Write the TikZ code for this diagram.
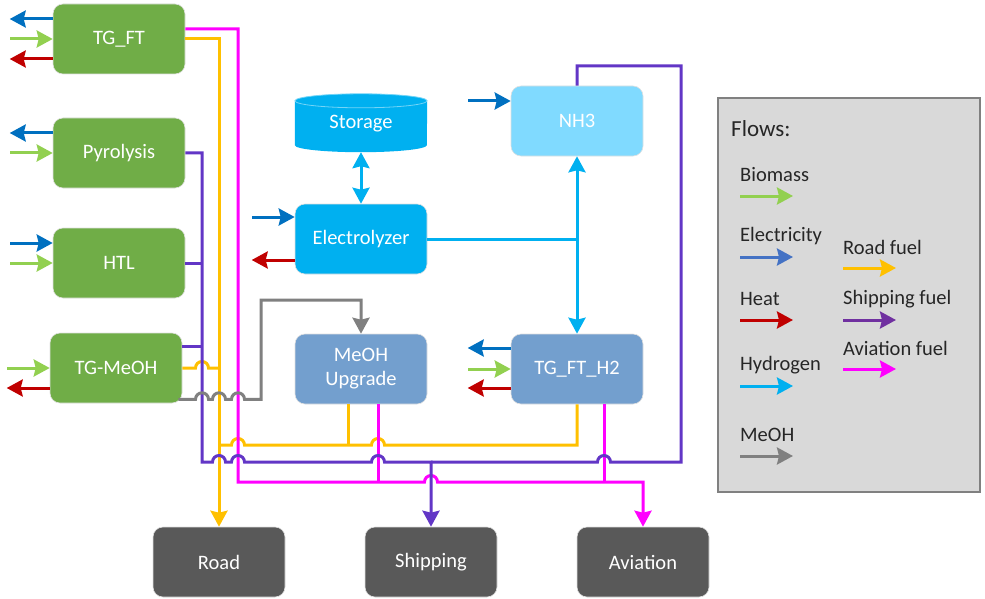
\documentclass[tikz,border=0pt]{standalone}
\usepackage{fontspec}
\setmainfont{Carlito}
\usetikzlibrary{arrows.meta,calc,backgrounds}

\definecolor{cBio}{HTML}{92D050}
\definecolor{cElec}{HTML}{0070C0}
\definecolor{cElecL}{HTML}{4472C4}
\definecolor{cHeat}{HTML}{C00000}
\definecolor{cH2}{HTML}{00B0F0}
\definecolor{cMeOH}{HTML}{808080}
\definecolor{cRoad}{HTML}{FFC000}
\definecolor{cShip}{HTML}{6236C6}
\definecolor{cShipL}{HTML}{7030A0}
\definecolor{cAvia}{HTML}{FF00FF}
\definecolor{cProc}{HTML}{70AD47}
\definecolor{cNH}{HTML}{80DAFF}
\definecolor{cUpg}{HTML}{739FCE}
\definecolor{cDark}{HTML}{595959}

\begin{document}
\begin{tikzpicture}[x=1pt,y=1pt,
    >={Stealth[length=16pt,width=17pt,inset=2pt]},
    box/.style={rectangle,rounded corners=10pt,minimum width=132pt,minimum height=70pt,
        draw=black!12,line width=0.6pt,text=white,align=center,font=\fontsize{20.5}{24}\selectfont},
    proc/.style={box,fill=cProc},
    h2box/.style={box,fill=cH2},
    upg/.style={box,fill=cUpg},
    sink/.style={box,fill=cDark},
    flow/.style={line width=3pt},
    hop/.style={to path={-- ($(\tikztotarget)+(-6.5pt,0)$) arc[start angle=180,end angle=0,radius=6.5pt]}},
    hopl/.style={to path={-- ($(\tikztotarget)+(6.5pt,0)$) arc[start angle=0,end angle=180,radius=6.5pt]}},
    lgtext/.style={inner sep=0pt,anchor=west,text=black!85,font=\fontsize{20.5}{23}\selectfont}]
    \useasboundingbox (0,0) rectangle (985,-599);

    % legend
    \node[draw=black!50,fill=black!15,line width=1.8pt,minimum width=262pt,minimum height=394pt] (legend) at (849,-295) {};
    \node[lgtext,font=\fontsize{23}{25}\selectfont] (flows) at (731,-129) {Flows:};
    \foreach \n/\t/\c/\x/\y in {bio/Biomass/cBio/740/175, el/Electricity/cElecL/740/236,
        ht/Heat/cHeat/740/299, hy/Hydrogen/cH2/740/365, me/MeOH/cMeOH/740/435,
        rd/Road fuel/cRoad/843/247, sh/Shipping fuel/cShipL/843/299, av/Aviation fuel/cAvia/843/348} {
        \node[lgtext] (lg-\n) at (\x,-\y) {\t};
        \draw[flow,color=\c,->] ([yshift=-21pt]lg-\n.west) -- ++(53,0);
    }

    % conversion units
    \node[proc] (tgft) at (119,-39) {TG\_FT};
    \node[proc] (pyro) at (119,-153) {Pyrolysis};
    \node[proc] (htl) at (119,-263) {HTL};
    \node[proc] (tgmeoh) at (116,-368) {TG-MeOH};
    \node[minimum width=132pt,minimum height=56pt,text=white,font=\fontsize{20.5}{24}\selectfont] (storage) at (361,-124) {Storage};
    \begin{scope}[on background layer]
        \fill[cH2] ([yshift=-5pt]storage.north west) -- ([yshift=7pt]storage.south west)
            arc[start angle=180,end angle=360,x radius=66pt,y radius=7pt]
            -- ([yshift=-5pt]storage.north east)
            arc[start angle=0,end angle=180,x radius=66pt,y radius=7pt] -- cycle;
        \draw[white!45!cH2,line width=0.8pt] ([yshift=-5pt]storage.north) ellipse[x radius=66pt,y radius=7pt];
    \end{scope}
    \node[h2box] (elec) at (361,-239) {Electrolyzer};
    \node[box,fill=cNH] (nh3) at (577,-121) {NH3};
    \node[upg] (upgrade) at (361,-369) {MeOH\\Upgrade};
    \node[upg] (tgfth2) at (577,-369) {TG\_FT\_H2};
    \node[sink] (road) at (219,-562) {Road};
    \node[sink] (ship) at (431,-562) {Shipping};
    \node[sink] (avia) at (643,-562) {Aviation};

    % streams into the units
    \foreach \n/\dy/\c in {tgft/0/cBio, pyro/0/cBio, htl/20/cElec, htl/0/cBio, tgmeoh/0/cBio,
        elec/22/cElec, nh3/20/cElec, tgfth2/0/cBio}
        \draw[flow,color=\c,<-] ([yshift=\dy pt]\n.west) -- ++(-43,0);
    % streams out of the units
    \foreach \n/\dy/\c in {tgft/20/cElec, tgft/-20/cHeat, pyro/20/cElec, tgmeoh/-20/cHeat,
        elec/-21/cHeat, tgfth2/21/cElec, tgfth2/-19/cHeat}
        \draw[flow,color=\c,->] ([yshift=\dy pt]\n.west) -- ++(-43,0);

    % buses
    \coordinate (pb) at (202,0);
    \coordinate (mb) at (238,0);
    \coordinate (yh) at (0,-445);
    \coordinate (ph) at (0,-462);
    \coordinate (mh) at (0,-482);
    \coordinate (fm) at ([yshift=10pt]tgft.east);
    \coordinate (mp) at ([yshift=-14pt]tgmeoh.north east);
    \coordinate (gs) at ([shift={(-4pt,4pt)}]tgmeoh.south east);
    \coordinate (gc) at (261,-300);
    \coordinate (upy) at ([xshift=-13pt]upgrade.south);
    \coordinate (upm) at ([xshift=17pt]upgrade.south);
    \coordinate (h2m) at ([xshift=27pt]tgfth2.south);
    \coordinate (nr) at (681,-66);

    % hydrogen
    \draw[flow,cH2] (elec.east) -- (elec.east -| nh3.south);
    \draw[flow,cH2,<->] (nh3.south) -- (tgfth2.north);
    \draw[flow,cH2,<->] (storage.south) -- (elec.north);

    % road fuel
    \draw[flow,cRoad,->] (tgft.east) -| (road.north);
    \draw[flow,cRoad] (tgmeoh.east) to[hop] (pb |- tgmeoh.east) -- (road.north |- tgmeoh.east);
    \draw[flow,cRoad] (tgfth2.south) -- (tgfth2.south |- yh) to[hopl] (upm |- yh) to[hopl] (mb |- yh) -- (road.north |- yh);
    \draw[flow,cRoad] (upy) -- (upy |- yh);

    % aviation fuel
    \draw[flow,cAvia,->] (fm) -| (mb |- mh) to[hop] (ship.north |- mh) -| (avia.north);
    \draw[flow,cAvia] (upm) -- (upm |- mh);
    \draw[flow,cAvia] (h2m) -- (h2m |- mh);

    % shipping fuel
    \draw[flow,cShip,->] (pyro.east) -| (pb |- ph) to[hop] (road.north |- ph) to[hop] (mb |- ph)
        to[hop] (upm |- ph) -- (ship.north |- ph) -- (ship.north);
    \draw[flow,cShip] (htl.east) -- (pb |- htl.east);
    \draw[flow,cShip] (mp) -- (pb |- mp);
    \draw[flow,cShip] (nh3.north) |- (nr) -- (nr |- ph) to[hopl] (h2m |- ph) -- (ship.north |- ph);

    % methanol
    \draw[flow,cMeOH,->] (gs) to[hop] (pb |- gs) to[hop] (road.north |- gs) to[hop] (mb |- gs) -| (gc) -| (upgrade.north);
\end{tikzpicture}
\end{document}
